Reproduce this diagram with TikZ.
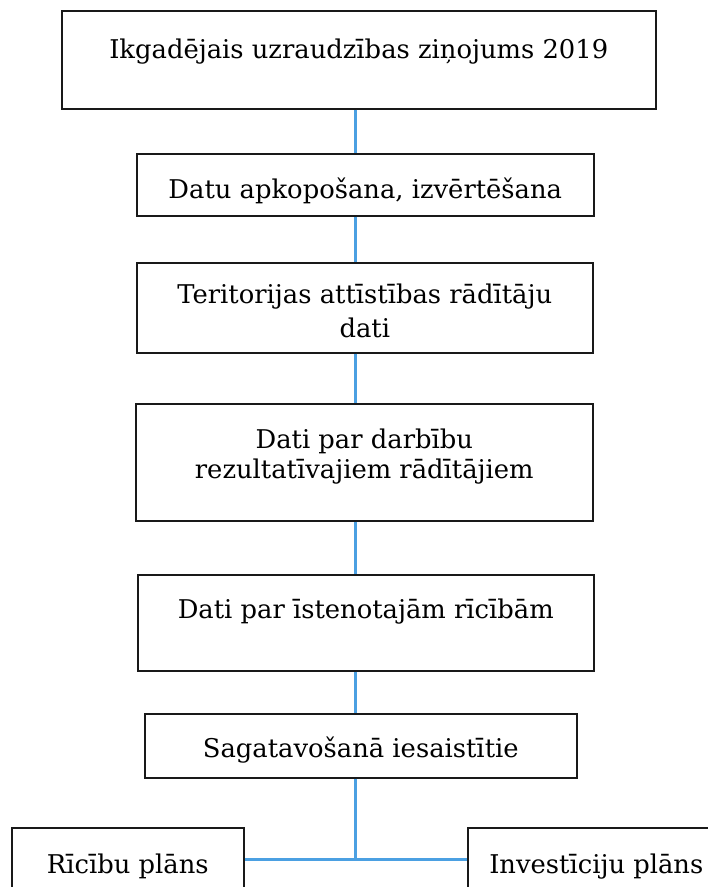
\documentclass[tikz,border=0pt]{standalone}
\usepackage{fontspec}
\setmainfont{DejaVu Serif}
\definecolor{linkblue}{RGB}{75,160,226}
\definecolor{boxline}{RGB}{25,25,25}
\tikzset{
  flowbox/.style={draw=boxline, line width=1.6pt, rectangle, anchor=north west,
    inner xsep=0pt, inner ysep=0pt, align=center,
    font=\fontsize{25.8}{30}\selectfont},
  link/.style={draw=linkblue, line width=3pt},
}
\begin{document}
\begin{tikzpicture}[x=1pt,y=-1pt]
\useasboundingbox (0,0) rectangle (708,887);
\clip (0,0) rectangle (708,887);
% boxes: top-left at (x1,y1), width, baseline offset (text height), rest (text depth)
\node[flowbox, minimum width=594pt, text height=48pt, text depth=50pt] (b1) at (61,10)
  {Ikgadējais uzraudzības ziņojums 2019};
\node[flowbox, minimum width=457pt, text height=45pt, text depth=17pt] (b2) at (136,153)
  {Datu apkopošana, izvērtēšana};
\node[flowbox, minimum width=456pt, text height=75pt, text depth=15pt,
      font=\fontsize{25.8}{34}\selectfont] (b3) at (136,262)
  {Teritorijas attīstības rādītāju\\dati};
\node[flowbox, minimum width=457pt, text height=75pt, text depth=42pt] (b4) at (135,403)
  {Dati par darbību\\rezultatīvajiem rādītājiem};
\node[flowbox, minimum width=456pt, text height=44pt, text depth=52pt] (b5) at (137,574)
  {Dati par īstenotajām rīcībām};
\node[flowbox, minimum width=432pt, text height=44pt, text depth=20pt] (b6) at (144,713)
  {Sagatavošanā iesaistītie};
\node[flowbox, minimum width=232pt, text height=46pt, text depth=44pt] (b7) at (11,827)
  {Rīcību plāns};
\node[flowbox, minimum width=257pt, text height=46pt, text depth=44pt] (b8) at (467,827)
  {Investīciju plāns};
% connectors
\coordinate (cx) at (355,0);
\coordinate (junc) at (355,859);
\draw[link] (b1.south -| cx) -- (b2.north -| cx);
\draw[link] (b2.south -| cx) -- (b3.north -| cx);
\draw[link] (b3.south -| cx) -- (b4.north -| cx);
\draw[link] (b4.south -| cx) -- (b5.north -| cx);
\draw[link] (b5.south -| cx) -- (b6.north -| cx);
\draw[link] (b6.south -| cx) -- (junc);
\draw[link] (b7.east |- junc) -- (b8.west |- junc);
\end{tikzpicture}
\end{document}
